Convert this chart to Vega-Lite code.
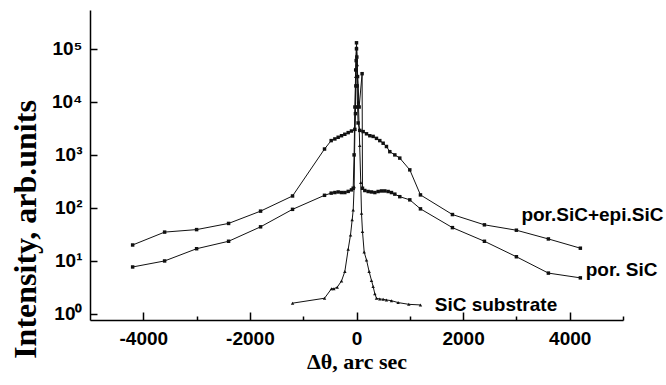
{
  "$schema": "https://vega.github.io/schema/vega-lite/v6.json",
  "width": 533,
  "height": 310,
  "autosize": {"type": "none"},
  "padding": {"left": 90, "top": 10, "right": 43, "bottom": 65},
  "background": "white",
  "config": {"view": {"stroke": null}},
  "datasets": {
    "curves": [
      {"series": "A", "x": -4200, "y": 20}, {"series": "A", "x": -3600, "y": 35}, {"series": "A", "x": -3000, "y": 39},
      {"series": "A", "x": -2400, "y": 51}, {"series": "A", "x": -1800, "y": 87}, {"series": "A", "x": -1200, "y": 168},
      {"series": "A", "x": -600, "y": 1290}, {"series": "A", "x": -475, "y": 1860}, {"series": "A", "x": -406, "y": 2000},
      {"series": "A", "x": -344, "y": 2150}, {"series": "A", "x": -281, "y": 2300}, {"series": "A", "x": -219, "y": 2450},
      {"series": "A", "x": -156, "y": 2630}, {"series": "A", "x": -94, "y": 2820}, {"series": "A", "x": -31, "y": 3030},
      {"series": "A", "x": -20, "y": 6000}, {"series": "A", "x": -12, "y": 20000}, {"series": "A", "x": -6, "y": 60000},
      {"series": "A", "x": 0, "y": 130000}, {"series": "A", "x": 6, "y": 70000}, {"series": "A", "x": 12, "y": 20000},
      {"series": "A", "x": 20, "y": 8000}, {"series": "A", "x": 30, "y": 4000}, {"series": "A", "x": 62, "y": 2900},
      {"series": "A", "x": 125, "y": 2750}, {"series": "A", "x": 188, "y": 2500}, {"series": "A", "x": 250, "y": 2300},
      {"series": "A", "x": 312, "y": 2230}, {"series": "A", "x": 375, "y": 2050}, {"series": "A", "x": 437, "y": 1860},
      {"series": "A", "x": 500, "y": 1660}, {"series": "A", "x": 562, "y": 1440}, {"series": "A", "x": 625, "y": 1150},
      {"series": "A", "x": 719, "y": 1000}, {"series": "A", "x": 812, "y": 870}, {"series": "A", "x": 1000, "y": 522},
      {"series": "A", "x": 1200, "y": 176}, {"series": "A", "x": 1800, "y": 75}, {"series": "A", "x": 2400, "y": 48},
      {"series": "A", "x": 3000, "y": 38}, {"series": "A", "x": 3600, "y": 26}, {"series": "A", "x": 4200, "y": 17.4},

      {"series": "B", "x": -4200, "y": 7.7}, {"series": "B", "x": -3600, "y": 10}, {"series": "B", "x": -3000, "y": 17},
      {"series": "B", "x": -2400, "y": 23.5}, {"series": "B", "x": -1800, "y": 44}, {"series": "B", "x": -1200, "y": 94},
      {"series": "B", "x": -600, "y": 173}, {"series": "B", "x": -475, "y": 190}, {"series": "B", "x": -406, "y": 195},
      {"series": "B", "x": -344, "y": 200}, {"series": "B", "x": -281, "y": 195}, {"series": "B", "x": -219, "y": 195},
      {"series": "B", "x": -156, "y": 205}, {"series": "B", "x": -94, "y": 219}, {"series": "B", "x": -62, "y": 235},
      {"series": "B", "x": -45, "y": 1000}, {"series": "B", "x": -30, "y": 8000}, {"series": "B", "x": -15, "y": 40000},
      {"series": "B", "x": 0, "y": 100000}, {"series": "B", "x": 20, "y": 30000}, {"series": "B", "x": 50, "y": 8000},
      {"series": "B", "x": 105, "y": 34000}, {"series": "B", "x": 112, "y": 235}, {"series": "B", "x": 156, "y": 213},
      {"series": "B", "x": 219, "y": 204}, {"series": "B", "x": 281, "y": 200}, {"series": "B", "x": 344, "y": 195},
      {"series": "B", "x": 406, "y": 204}, {"series": "B", "x": 469, "y": 209}, {"series": "B", "x": 531, "y": 209},
      {"series": "B", "x": 594, "y": 204}, {"series": "B", "x": 656, "y": 195}, {"series": "B", "x": 719, "y": 182},
      {"series": "B", "x": 812, "y": 163}, {"series": "B", "x": 1000, "y": 142}, {"series": "B", "x": 1200, "y": 96},
      {"series": "B", "x": 1800, "y": 42.5}, {"series": "B", "x": 2400, "y": 23.5}, {"series": "B", "x": 3000, "y": 12},
      {"series": "B", "x": 3600, "y": 5.9}, {"series": "B", "x": 4200, "y": 4.8},

      {"series": "C", "x": -1200, "y": 1.6}, {"series": "C", "x": -600, "y": 1.98}, {"series": "C", "x": -469, "y": 3.0},
      {"series": "C", "x": -425, "y": 3.0}, {"series": "C", "x": -362, "y": 3.2}, {"series": "C", "x": -281, "y": 4.2},
      {"series": "C", "x": -219, "y": 6.3}, {"series": "C", "x": -156, "y": 16.6}, {"series": "C", "x": -112, "y": 31},
      {"series": "C", "x": -81, "y": 60}, {"series": "C", "x": -62, "y": 91}, {"series": "C", "x": -44, "y": 250},
      {"series": "C", "x": -30, "y": 3000}, {"series": "C", "x": -15, "y": 30000}, {"series": "C", "x": 0, "y": 110000},
      {"series": "C", "x": 15, "y": 50000}, {"series": "C", "x": 35, "y": 10000}, {"series": "C", "x": 60, "y": 1500},
      {"series": "C", "x": 80, "y": 300}, {"series": "C", "x": 94, "y": 79}, {"series": "C", "x": 112, "y": 36},
      {"series": "C", "x": 144, "y": 14.7}, {"series": "C", "x": 188, "y": 10.4}, {"series": "C", "x": 237, "y": 6.3},
      {"series": "C", "x": 281, "y": 4.3}, {"series": "C", "x": 312, "y": 3.3}, {"series": "C", "x": 344, "y": 2.4},
      {"series": "C", "x": 375, "y": 1.97}, {"series": "C", "x": 437, "y": 1.92}, {"series": "C", "x": 500, "y": 1.89},
      {"series": "C", "x": 562, "y": 1.84}, {"series": "C", "x": 656, "y": 1.78}, {"series": "C", "x": 781, "y": 1.64},
      {"series": "C", "x": 981, "y": 1.52}, {"series": "C", "x": 1200, "y": 1.48}
    ],
    "labels": [
      {"x": 3094, "y": 73.8, "label": "por.SiC+epi.SiC"},
      {"x": 4300, "y": 6.76, "label": "por. SiC"},
      {"x": 1468, "y": 1.48, "label": "SiC substrate"}
    ]
  },
  "resolve": {
    "scale": {"x": "independent", "y": "independent"},
    "axis": {"x": "independent", "y": "independent"}
  },
  "encoding": {
    "x": {
      "field": "x", "type": "quantitative",
      "scale": {"domain": [-5000, 5000], "nice": false, "zero": false}
    },
    "y": {
      "field": "y", "type": "quantitative",
      "scale": {"type": "log", "domain": [0.77, 540000], "nice": false}
    }
  },
  "layer": [
    {
      "data": {"name": "curves"},
      "mark": {"type": "line", "color": "#111", "strokeWidth": 1},
      "encoding": {
        "detail": {"field": "series"},
        "x": {
          "field": "x", "type": "quantitative",
          "scale": {"domain": [-5000, 5000], "nice": false, "zero": false},
          "axis": {
            "orient": "bottom",
            "title": "Δθ, arc sec",
            "titleFont": "Liberation Serif", "titleFontSize": 22, "titleFontWeight": "bold", "titleColor": "#000",
            "titleBaseline": "alphabetic", "titleY": 48,
            "values": [-4000, -2000, 0, 2000, 4000],
            "labelExpr": "'' + datum.value",
            "labelFont": "Liberation Sans", "labelFontSize": 19, "labelFontWeight": "bold", "labelColor": "#000",
            "labelPadding": 9, "labelFlush": false, "labelOverlap": false,
            "ticks": false,
            "domainColor": "#000", "domainWidth": 1.5, "grid": false
          }
        },
        "y": {
          "field": "y", "type": "quantitative",
          "scale": {"type": "log", "domain": [0.77, 540000], "nice": false},
          "axis": {
            "orient": "left",
            "title": "Intensity, arb.units",
            "titleFont": "Liberation Serif", "titleFontSize": 32, "titleFontWeight": "bold", "titleColor": "#000",
            "titleX": -65, "titleY": 219, "titleBaseline": "middle",
            "values": [1, 10, 100, 1000, 10000, 100000],
            "labelExpr": "'10' + ['⁰','¹','²','³','⁴','⁵'][round(log(datum.value)/LN10)]",
            "labelFont": "Liberation Sans", "labelFontSize": 19, "labelFontWeight": "bold", "labelColor": "#000",
            "labelPadding": 8,
            "ticks": false,
            "domainColor": "#000", "domainWidth": 1.5, "grid": false
          }
        }
      }
    },
    {
      "data": {"name": "curves"},
      "mark": {"type": "point", "filled": true, "color": "#111", "opacity": 1, "size": 12},
      "encoding": {
        "shape": {"field": "series", "scale": {"domain": ["A", "B", "C"], "range": ["square", "square", "triangle-up"]}, "legend": null},
        "x": {
          "field": "x", "type": "quantitative",
          "scale": {"domain": [-5000, 5000], "nice": false, "zero": false},
          "axis": {
            "orient": "bottom", "offset": -8, "title": null, "labels": false, "domain": false, "grid": false,
            "values": [-4000, -2000, 0, 2000, 4000],
            "tickSize": 8, "tickColor": "#000", "tickWidth": 1.5
          }
        },
        "y": {
          "field": "y", "type": "quantitative",
          "scale": {"type": "log", "domain": [0.77, 540000], "nice": false},
          "axis": {
            "orient": "left", "offset": -7, "title": null, "labels": false, "domain": false, "grid": false,
            "values": [1, 10, 100, 1000, 10000, 100000],
            "tickSize": 7, "tickColor": "#000", "tickWidth": 1.5
          }
        }
      }
    },
    {
      "data": {"name": "labels"},
      "mark": {"type": "text", "align": "left", "baseline": "middle", "font": "Liberation Sans", "fontSize": 19, "fontWeight": "bold", "color": "#000"},
      "encoding": {
        "text": {"field": "label"},
        "x": {
          "field": "x", "type": "quantitative",
          "scale": {"domain": [-5000, 5000], "nice": false, "zero": false},
          "axis": {
            "orient": "bottom", "offset": -4, "title": null, "labels": false, "domain": false, "grid": false,
            "values": [-3000, -1000, 1000, 3000, 5000],
            "tickSize": 4, "tickColor": "#000", "tickWidth": 1.5
          }
        },
        "y": {
          "field": "y", "type": "quantitative",
          "scale": {"type": "log", "domain": [0.77, 540000], "nice": false},
          "axis": null
        }
      }
    }
  ]
}
